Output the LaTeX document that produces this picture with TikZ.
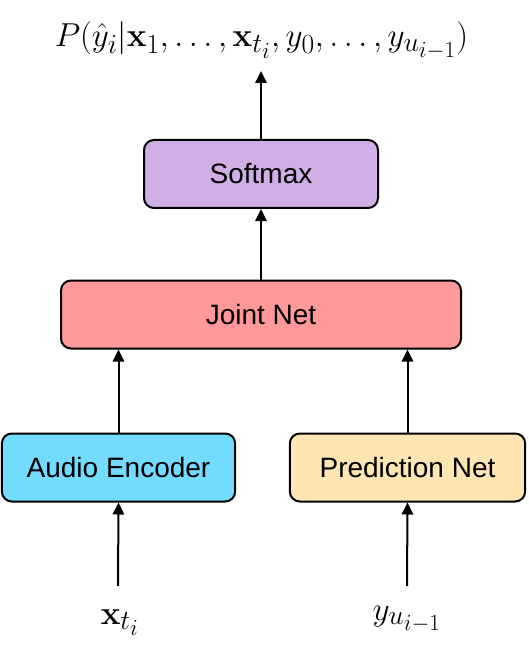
\documentclass[tikz,border=0pt]{standalone}
\usepackage[no-math]{fontspec}
\setmainfont{Liberation Sans}
\usepackage{amsmath, amssymb}
\usetikzlibrary{arrows.meta}
\definecolor{softpurple}{RGB}{207, 175, 230}
\definecolor{jointred}{RGB}{255, 153, 153}
\definecolor{encblue}{RGB}{115, 219, 255}
\definecolor{predyellow}{RGB}{255, 229, 178}
\DeclareMathSizes{29}{29}{21}{17}

\begin{document}
\begin{tikzpicture}[x=0.75pt, y=-0.75pt,
  block/.style={draw=black, line width=1.5pt, rounded corners=7.5pt, minimum height=51pt, inner sep=0pt, font=\fontsize{21}{25}\selectfont},
  flow/.style={line width=1.5pt, -{Triangle[length=9pt, width=8.5pt]}},
  mathlabel/.style={anchor=base, inner sep=0pt, font=\fontsize{29}{33}\selectfont}]
  \useasboundingbox (0,0) rectangle (528,645);

  % blocks
  \node[block, fill=softpurple, minimum width=175.5pt] (softmax) at (261,174) {Softmax};
  \node[block, fill=jointred, minimum width=300pt] (joint) at (261,314.5) {Joint Net};
  \node[block, fill=encblue, minimum width=175pt] (encoder) at (118.5,467.5) {Audio Encoder};
  \node[block, fill=predyellow, minimum width=176.5pt] (prednet) at (407.5,467.5) {Prediction Net};

  % inputs and output
  \node[mathlabel] (output) at (261.5,47) {$P(\hat{y}_i|\mathbf{x}_1,\ldots,\mathbf{x}_{t_i},y_0,\ldots,y_{u_{i-1}})$};
  \node[mathlabel] (xin) at (120,624) {$\mathbf{x}_{t_i}$};
  \node[mathlabel] (yin) at (407,620) {$y_{u_{i-1}}$};
  \coordinate (outtip) at (261,71);
  \coordinate (xstart) at (118,586);
  \coordinate (ystart) at (407,586);

  % connections
  \draw[flow] (softmax.north) -- (outtip);
  \draw[flow] (joint.north) -- (softmax.south);
  \draw[flow] (encoder.north) -- (joint.south -| encoder.north);
  \draw[flow] (prednet.north) -- (joint.south -| prednet.north);
  \draw[flow] (xstart) -- (encoder.south);
  \draw[flow] (ystart) -- (prednet.south);
\end{tikzpicture}
\end{document}
